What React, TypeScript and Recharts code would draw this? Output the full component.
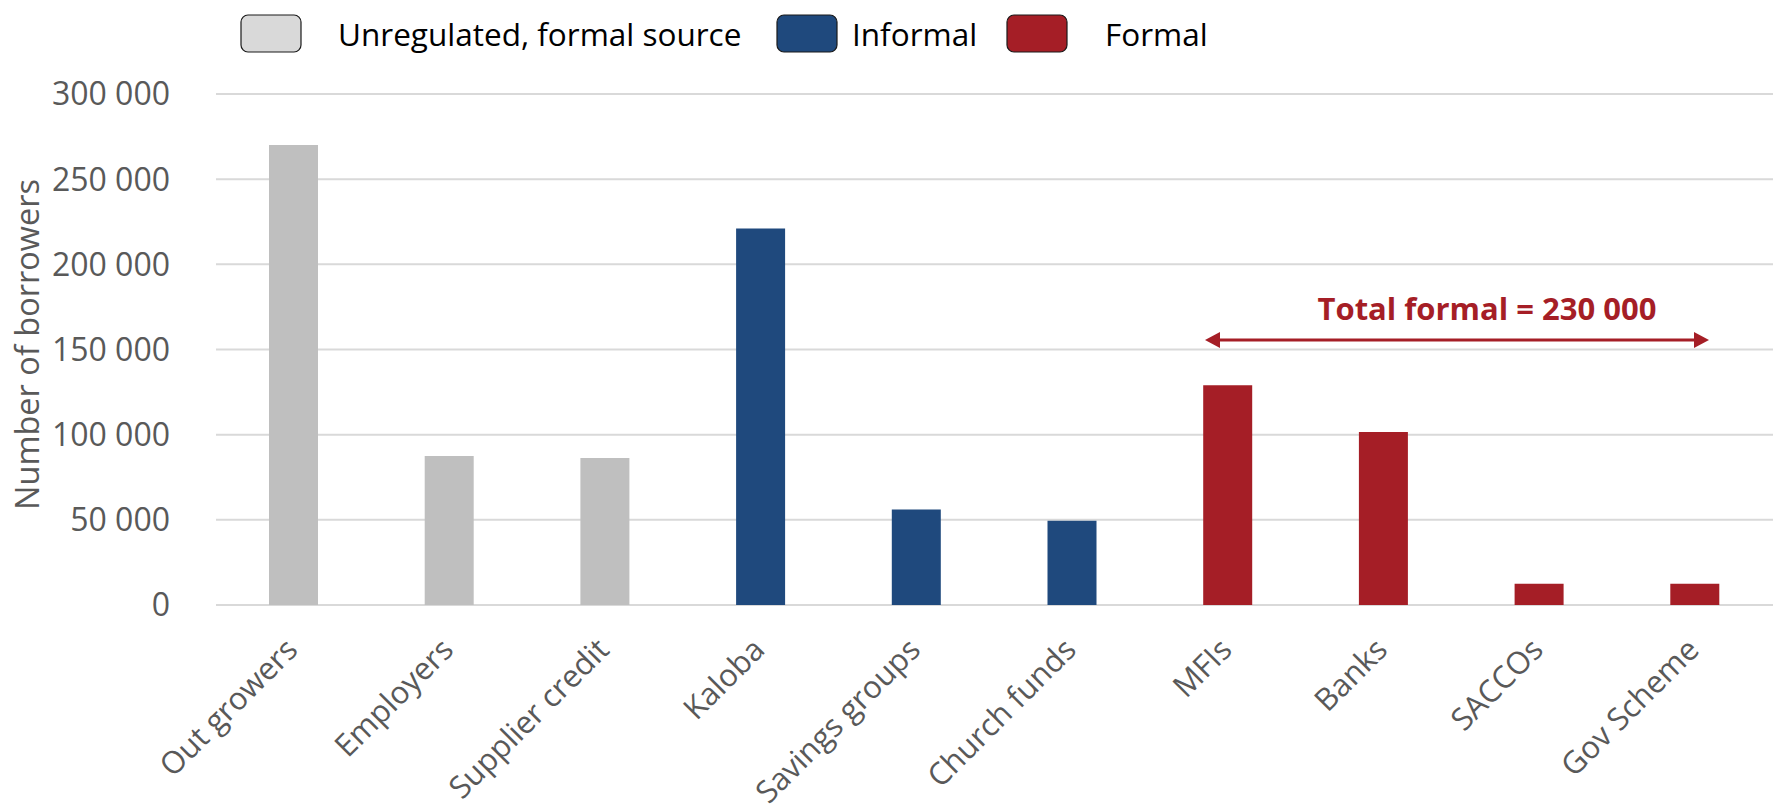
import React from 'react';
import { BarChart, Bar, XAxis, YAxis, CartesianGrid, Cell, Customized } from 'recharts';

// Borrowers by source of credit
const categories = [
  'Out growers',
  'Employers',
  'Supplier credit',
  'Kaloba',
  'Savings groups',
  'Church funds',
  'MFIs',
  'Banks',
  'SACCOs',
  'Gov Scheme',
];
const borrowers = [270000, 87500, 86300, 221000, 56000, 49500, 129000, 101500, 12500, 12500];
const sourceGroup = [
  'unregulated', 'unregulated', 'unregulated',
  'informal', 'informal', 'informal',
  'formal', 'formal', 'formal', 'formal',
];
const yTicks = [0, 50000, 100000, 150000, 200000, 250000, 300000];
const legendLabels = ['Unregulated, formal source', 'Informal', 'Formal'];
const formalTotalLabel = 'Total formal = 230 000';
const yTitle = 'Number of borrowers';

const FONT = '"Open Sans", sans-serif';
const TEXT_GREY = '#595959';
const GRID = '#D9D9D9';
const RED = '#A51E26';

const groupColor: Record<string, string> = {
  unregulated: '#BFBFBF',
  informal: '#1F497D',
  formal: RED,
};
const legendFill = ['#D9D9D9', '#1F497D', RED];

const data = categories.map((name, i) => ({
  name,
  value: borrowers[i],
  group: sourceGroup[i],
}));

const formatThousands = (v: number) =>
  String(v).replace(/\B(?=(\d{3})+(?!\d))/g, ' ');

const XTick = (props: any) => {
  const { x, y, payload } = props;
  const ax = x - 10;
  return (
    <text
      x={ax}
      y={y}
      dy={22}
      textAnchor="end"
      transform={`rotate(-45, ${ax}, ${y})`}
      fontFamily={FONT}
      fontSize={31}
      fill={TEXT_GREY}
    >
      {payload.value}
    </text>
  );
};

const YTitle = (props: any) => {
  const vb = props.viewBox || { x: 0, y: 94, width: 216, height: 511 };
  const cx = vb.x + 28;
  const cy = vb.y + vb.height / 2 - 5;
  return (
    <text
      x={cx}
      y={cy}
      dy={11}
      textAnchor="middle"
      transform={`rotate(-90, ${cx}, ${cy})`}
      fontFamily={FONT}
      fontSize={32.5}
      fill={TEXT_GREY}
    >
      {yTitle}
    </text>
  );
};

// Legend row across the top of the chart
const legendBoxX = [241, 777, 1007];
const legendTextX = [338, 852, 1105];

const TopLegend = () => (
  <g>
    {legendLabels.map((label, i) => (
      <g key={label}>
        <rect
          x={legendBoxX[i]}
          y={15}
          width={60}
          height={37}
          rx={7}
          ry={7}
          fill={legendFill[i]}
          stroke="#1a1a1a"
          strokeWidth={1.2}
        />
        <text
          x={legendTextX[i]}
          y={46}
          fontFamily={FONT}
          fontSize={31.5}
          fill="#000000"
        >
          {label}
        </text>
      </g>
    ))}
  </g>
);

// Double-headed arrow spanning the formal sources, with its total
const FormalSpan = () => {
  const y = 340;
  const x1 = 1205;
  const x2 = 1709;
  const head = 15;
  const half = 8;
  return (
    <g>
      <line x1={x1 + head - 2} y1={y} x2={x2 - head + 2} y2={y} stroke={RED} strokeWidth={3} />
      <polygon points={`${x1},${y} ${x1 + head},${y - half} ${x1 + head},${y + half}`} fill={RED} />
      <polygon points={`${x2},${y} ${x2 - head},${y - half} ${x2 - head},${y + half}`} fill={RED} />
      <text
        x={1487}
        y={320}
        textAnchor="middle"
        fontFamily={FONT}
        fontWeight={700}
        fontSize={31}
        fill={RED}
      >
        {formalTotalLabel}
      </text>
    </g>
  );
};

export default function App() {
  return (
    <div style={{ position: 'absolute', left: 0, top: 0, width: 1777, height: 812, background: '#fff' }}>
      <BarChart
        width={1777}
        height={812}
        data={data}
        margin={{ top: 94, right: 4, left: 0, bottom: 0 }}
      >
        <CartesianGrid vertical={false} stroke={GRID} strokeWidth={2} />
        <XAxis
          dataKey="name"
          interval={0}
          tickLine={false}
          axisLine={false}
          height={207}
          tickMargin={25}
          tick={<XTick />}
        />
        <YAxis
          width={216}
          domain={[0, 300000]}
          ticks={yTicks}
          tickFormatter={formatThousands}
          tickLine={false}
          axisLine={false}
          tickMargin={40}
          tick={{ fontFamily: FONT, fontSize: 32, fill: TEXT_GREY }}
          label={(p: any) => <YTitle {...p} />}
        />
        <Bar dataKey="value" barSize={49} isAnimationActive={false}>
          {data.map((d) => (
            <Cell key={d.name} fill={groupColor[d.group]} />
          ))}
        </Bar>
        <Customized component={TopLegend} />
        <Customized component={FormalSpan} />
      </BarChart>
    </div>
  );
}
